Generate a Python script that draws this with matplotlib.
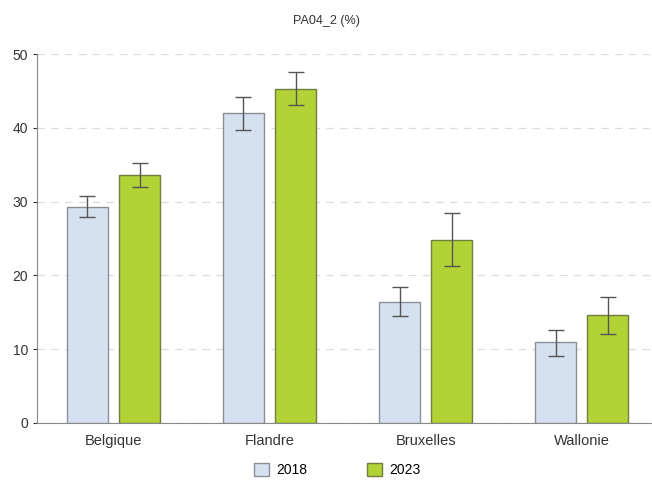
import numpy as np
import matplotlib.pyplot as plt

plt.rcParams['font.family'] = ['Liberation Sans', 'DejaVu Sans']

regions = ["Belgique", "Flandre", "Bruxelles", "Wallonie"]
years = ["2018", "2023"]
val_2018 = [29.3, 42.0, 16.4, 10.9]
low_2018 = [27.9, 39.7, 14.5, 9.1]
high_2018 = [30.8, 44.2, 18.4, 12.6]
val_2023 = [33.6, 45.3, 24.8, 14.6]
low_2023 = [32.0, 43.1, 21.2, 12.1]
high_2023 = [35.2, 47.6, 28.4, 17.1]

colors = {"2018": "#d5e1f1", "2023": "#b2d235"}
edges = {"2018": "#8a8f96", "2023": "#6f7f3a"}

fig = plt.figure(figsize=(6.52, 4.8), dpi=100)
ax = fig.add_axes([0.0567, 0.119, 0.9433, 0.7685])

x = np.arange(len(regions))
w = 0.263
off = 0.167
series = [("2018", val_2018, low_2018, high_2018, -off),
          ("2023", val_2023, low_2023, high_2023, off)]
for name, v, lo, hi, dx in series:
    v = np.array(v); lo = np.array(lo); hi = np.array(hi)
    ax.bar(x + dx, v, width=w, color=colors[name], edgecolor=edges[name],
           linewidth=1.0, label=name, zorder=2)
    ax.errorbar(x + dx, v, yerr=[v - lo, hi - v], fmt="none", ecolor="#555555",
                elinewidth=1.0, capsize=6, capthick=1.0, zorder=3)

ax.set_xlim(-0.49, 3.45)
ax.set_ylim(0, 50)
ax.set_yticks([0, 10, 20, 30, 40, 50])
ax.yaxis.grid(True, linestyle=(0, (6, 5)), color="#dddddd", linewidth=0.9, zorder=0)
ax.set_axisbelow(True)
ax.set_xticks(x)
ax.set_xticklabels(regions, fontsize=10.5, color="#333333")
ax.tick_params(axis="x", length=0, pad=8)
ax.tick_params(axis="y", labelsize=10, colors="#333333", length=3, width=0.8)
for s in ["top", "right"]:
    ax.spines[s].set_visible(False)
ax.spines["left"].set_color("#888888")
ax.spines["bottom"].set_color("#888888")

fig.text(0.5, 0.957, "PA04_2 (%)", ha="center", va="center", fontsize=9, color="#333333")
ax.legend(loc="upper center", bbox_to_anchor=(0.488, -0.075), ncol=2, frameon=False,
          fontsize=10, handlelength=1.1, handleheight=1.1, columnspacing=4.3,
          handletextpad=0.5)

fig.savefig("out.png", dpi=100)
